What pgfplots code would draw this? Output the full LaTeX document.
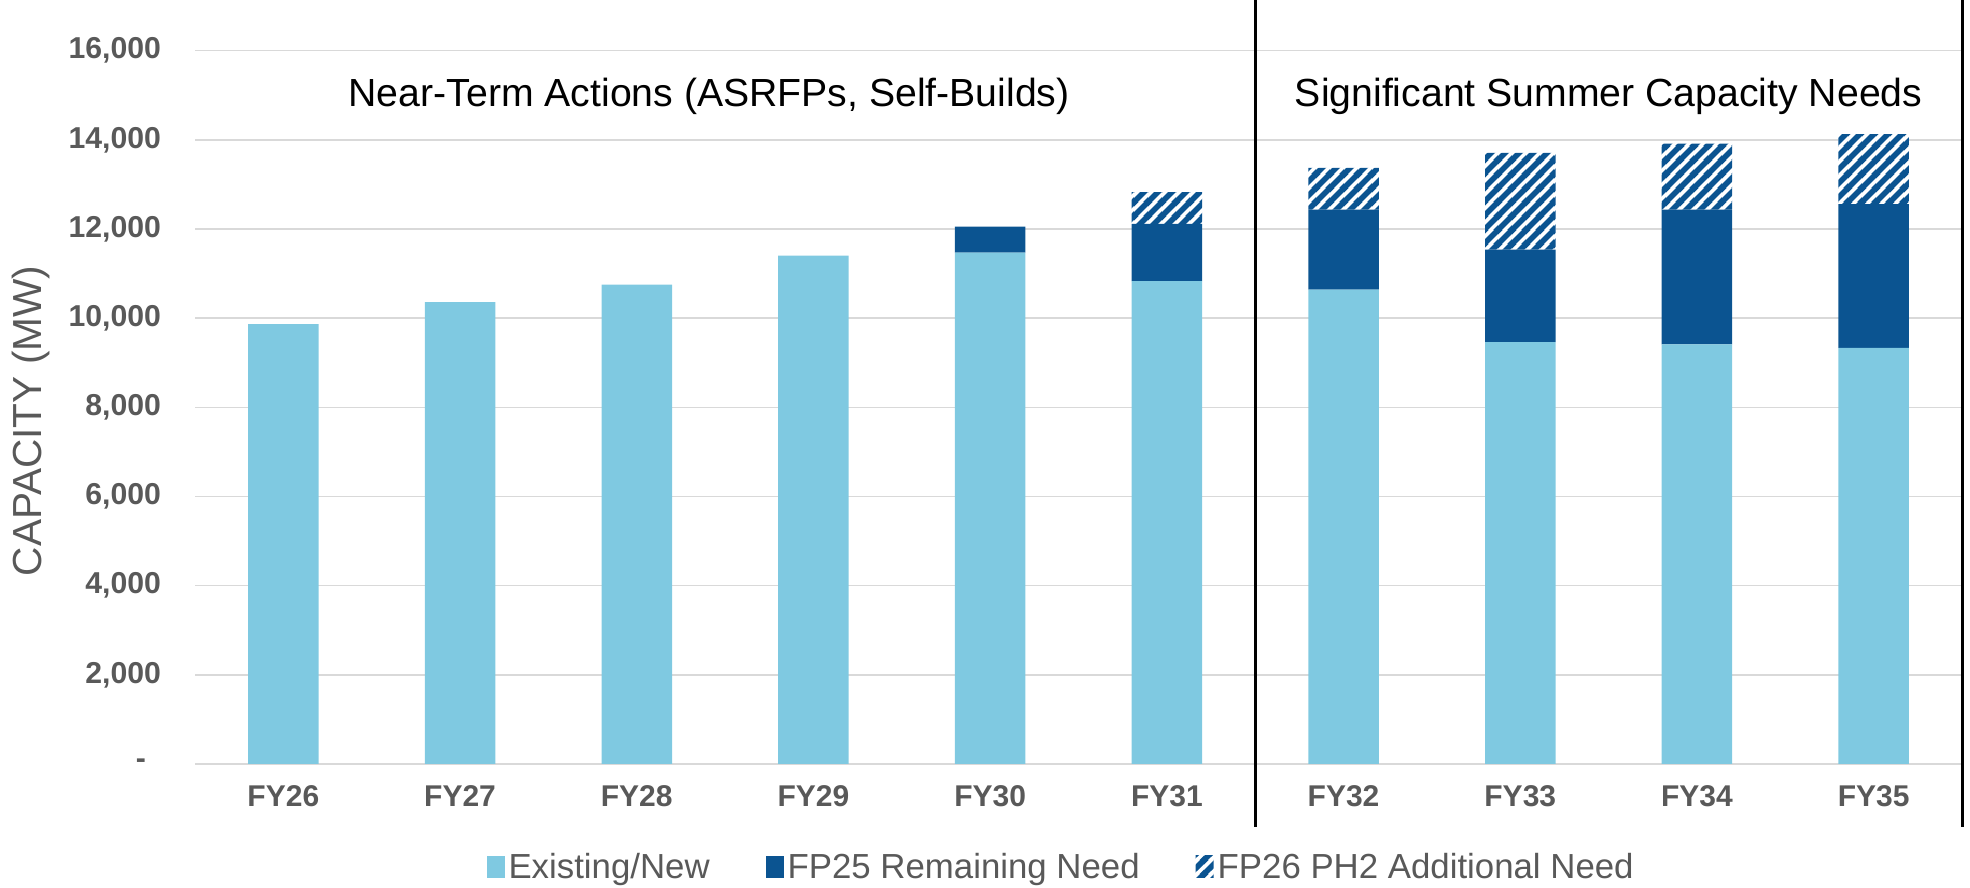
\documentclass[border=0pt]{standalone}
\usepackage{fontspec}
\setmainfont{Liberation Sans}
\usepackage{pgfplots}
\pgfplotsset{compat=1.18}
\usetikzlibrary{patterns}
\definecolor{lightb}{HTML}{7FC9E1}
\definecolor{darkb}{HTML}{0B5491}
\definecolor{txtgray}{HTML}{595959}
\definecolor{gridgray}{HTML}{D9D9D9}
\pgfdeclarepatternformonly{widediag}{\pgfqpoint{0pt}{0pt}}{\pgfqpoint{7pt}{7pt}}{\pgfqpoint{7pt}{7pt}}{%
  \pgfsetlinewidth{2.9pt}%
  \pgfpathmoveto{\pgfqpoint{-1pt}{-1pt}}\pgfpathlineto{\pgfqpoint{8pt}{8pt}}%
  \pgfpathmoveto{\pgfqpoint{-2pt}{5pt}}\pgfpathlineto{\pgfqpoint{2pt}{9pt}}%
  \pgfpathmoveto{\pgfqpoint{5pt}{-2pt}}\pgfpathlineto{\pgfqpoint{9pt}{2pt}}%
  \pgfusepath{stroke}}
\pgfplotsset{myleg/.style={legend image code/.code={\fill[##1] (0pt,-5.5pt) rectangle (9pt,5.5pt);}}}
\begin{document}
\begin{tikzpicture}
\begin{axis}[
  at={(97.5pt,62pt)}, anchor=south west,
  scale only axis, width=883.5pt, height=356.65pt,
  ybar stacked, bar width=35.25pt,
  xmin=-0.5, xmax=9.5, ymin=0, ymax=16000,
  scaled y ticks=false,
  xtick={0,1,2,3,4,5,6,7,8,9},
  xticklabels={FY26,FY27,FY28,FY29,FY30,FY31,FY32,FY33,FY34,FY35},
  ytick={0,2000,4000,6000,8000,10000,12000,14000,16000},
  yticklabels={{-\hspace*{7.5pt}\mbox{}},{2,000},{4,000},{6,000},{8,000},{10,000},{12,000},{14,000},{16,000}},
  axis line style={draw=none},
  major tick length=0pt, tick style={draw=none},
  ymajorgrids, grid style={gridgray, line width=0.7pt},
  xticklabel style={font=\fontsize{15}{18}\selectfont\bfseries, text=txtgray},
  yticklabel style={font=\fontsize{15.1}{18}\selectfont\bfseries, text=txtgray},
  xticklabel shift=7pt,
  yticklabel shift=13.5pt,
  ylabel={CAPACITY (MW)},
  every axis y label/.style={at={(axis description cs:-0.0928,0.4809)}, anchor=center, rotate=90,
     font=\fontsize{20.3}{24}\selectfont, text=txtgray},
  clip=false,
  legend columns=3,
  legend style={at={(axis description cs:0.4907,-0.1444)}, anchor=center, draw=none,
     font=\fontsize{17.4}{20}\selectfont, text=txtgray,
     /tikz/every even column/.append style={column sep=26pt}},
]
\addplot[fill=lightb, draw=none, myleg]
  coordinates {(0,9865) (1,10359) (2,10755) (3,11405) (4,11473) (5,10830) (6,10643) (7,9462) (8,9410) (9,9334)};
\addlegendentry{Existing/New}
\addplot[fill=darkb, draw=none, myleg]
  coordinates {(0,0) (1,0) (2,0) (3,0) (4,583) (5,1284) (6,1794) (7,2078) (8,3027) (9,3222)};
\addlegendentry{FP25 Remaining Need}
\addplot[fill=white, draw=none, postaction={pattern=widediag, pattern color=darkb}, myleg]
  coordinates {(0,0) (1,0) (2,0) (3,0) (4,0) (5,711) (6,933) (7,2166) (8,1479) (9,1570)};
\addlegendentry{FP26 PH2 Additional Need}
\draw[black, line width=1.5pt] (axis cs:5.5,-1413) -- (axis cs:5.5,17130);
\draw[black, line width=1.5pt] (axis cs:9.5,-1413) -- (axis cs:9.5,17130);
\node[anchor=base, font=\fontsize{19.6}{23}\selectfont, text=black] at (axis cs:2.41,14753) {Near-Term Actions (ASRFPs, Self-Builds)};
\node[anchor=base, font=\fontsize{19.6}{23}\selectfont, text=black] at (axis cs:7.5,14753) {Significant Summer Capacity Needs};
\end{axis}
\pgfresetboundingbox
\useasboundingbox (0,0) rectangle (985pt,444pt);
\end{tikzpicture}
\end{document}
